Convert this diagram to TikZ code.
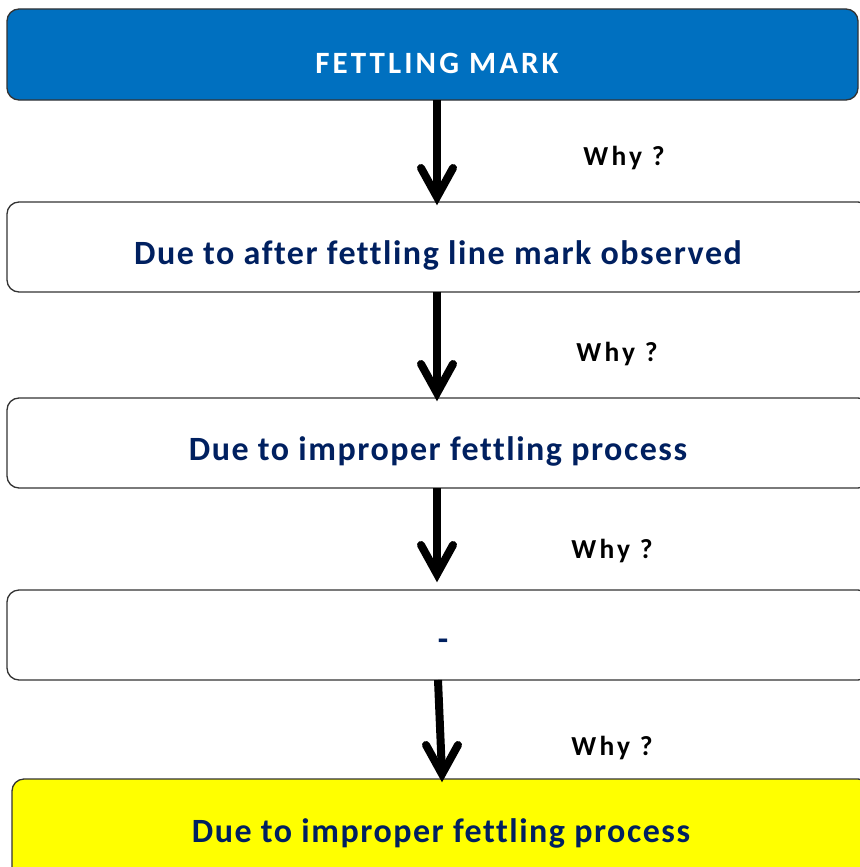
\documentclass[tikz,border=0pt]{standalone}
\usepackage{fontspec}
\setmainfont{Carlito}
\newfontfamily\mainfnt[LetterSpace=4.5,Ligatures=NoCommon]{Carlito}
\newfontfamily\topfnt[LetterSpace=10,Ligatures=NoCommon]{Carlito}
\newfontfamily\whyfnt[LetterSpace=12,Ligatures=NoCommon]{Carlito}
\usetikzlibrary{calc}
\definecolor{topblue}{HTML}{0070C0}
\definecolor{navy}{HTML}{002060}
\definecolor{hiyellow}{HTML}{FFFF00}
\begin{document}
\begin{tikzpicture}[x=1pt,y=-1pt,
  boxstyle/.style={draw=black!80,line width=1.3pt,rounded corners=12pt,fill=white},
  maintext/.style={font=\mainfnt\fontsize{34}{40}\selectfont\bfseries,text=navy},
  whytext/.style={font=\whyfnt\fontsize{27.5}{32}\selectfont\bfseries,text=black},
  shaft/.style={line width=8pt},
  barb/.style={line width=8pt,line cap=round,line join=miter}]
\useasboundingbox (0,0) rectangle (859,867);
\draw[boxstyle,fill=topblue] (7,9) rectangle (858,100);
\draw[boxstyle] (7,202) rectangle (870,292);
\draw[boxstyle] (7,398) rectangle (870,488);
\draw[boxstyle] (7,590) rectangle (870,680);
\draw[boxstyle,fill=hiyellow] (12,779) rectangle (870,880);
\node[font=\topfnt\fontsize{31}{36}\selectfont\bfseries,text=white] (t1) at (437,63) {FETTLING MARK};
\node[maintext] (t2) at (438,255) {Due to after fettling line mark observed};
\node[maintext] (t3) at (438,451) {Due to improper fettling process};
\node[maintext] (t4) at (443,645) {-};
\node[maintext] (t5) at (441,833) {Due to improper fettling process};
\node[whytext] (w1) at (624,158) {Why ?};
\node[whytext] (w2) at (617,354) {Why ?};
\node[whytext] (w3) at (612,551) {Why ?};
\node[whytext] (w4) at (612,748) {Why ?};
% arrows
\foreach \n/\xa/\ya/\xb/\yb in {1/437/100/437/197, 2/437/292/437/393, 3/437/488/437/574, 4/438/680/442/774}{
  \coordinate (s\n) at (\xa,\ya);
  \coordinate (e\n) at (\xb,\yb);
  \draw[shaft] (s\n) -- (e\n);
  \draw[barb] ($(e\n)+(-16,-29)$) -- (e\n) -- ($(e\n)+(16,-29)$);
}
\end{tikzpicture}
\end{document}
